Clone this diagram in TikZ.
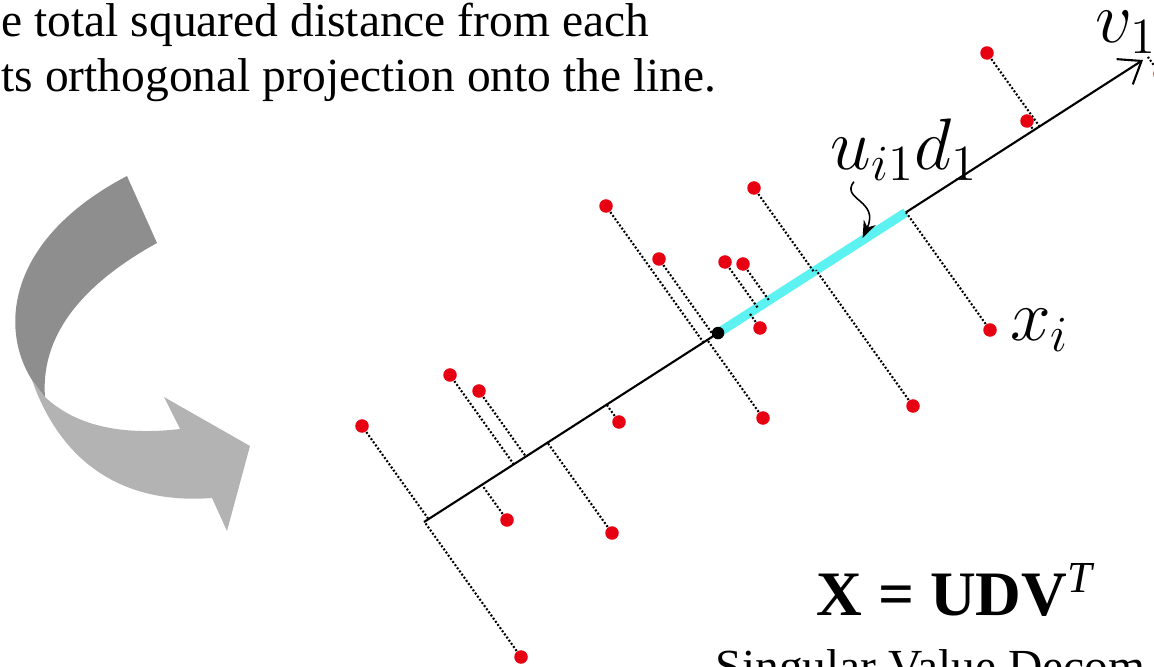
\documentclass[tikz,border=0pt]{standalone}
\usepackage[no-math]{fontspec}
\setmainfont{Liberation Serif}
\usetikzlibrary{arrows.meta,calc,positioning}
\definecolor{pointred}{HTML}{E60012}
\definecolor{segcyan}{HTML}{5CF2F2}
\definecolor{turndark}{HTML}{8E8E8E}
\definecolor{turnlight}{HTML}{B3B3B3}
\tikzset{
  point/.style={
    circle,
    fill=#1,
    inner sep=0pt,
    minimum size=0.135cm
  },
  point/.default=pointred,
  projline/.style={line width=0.6pt,dash pattern=on 0.55pt off 0.55pt},
  axis/.style={line width=0.6pt,-{Straight Barb[length=2mm,width=3mm]}},
  segment/.style={draw=segcyan,line width=2.6pt},
  pointer/.style={line width=0.45pt,-{Stealth[length=1.7mm,width=1.3mm]},shorten >=1pt},
  mathlabel/.style={inner sep=0pt,font=\fontsize{22}{26}\selectfont},
  caption/.style={inner sep=0pt,anchor=base west,font=\fontsize{13.5}{15.6}\selectfont}
}

\begin{document}
\begin{tikzpicture}[x=0.01cm,y=-0.01cm]
  \useasboundingbox (0,0) rectangle (1154,667);
  \clip (0,0) rectangle (1154,667);

  \node[caption] (line1) at (1,37) {e total squared distance from each};
  \node[caption] (line2) at (1,92) {ts orthogonal projection onto the line.};
  \node[caption] (svd) at (715,682) {Singular Value Decom};
  \node[caption,font=\fontsize{18}{21}\selectfont\bfseries] (formula) at (816,615) {X = UDV\textsuperscript{\mdseries\itshape T}};

  \fill[turnlight] (32,380) .. controls (60,460) and (120,505) .. (212,498)
    -- (227,531) -- (250,446) -- (164,397) -- (180,429)
    .. controls (120,436) and (75,425) .. (45,397) -- cycle;
  \fill[turndark] (127,176) -- (157,243) .. controls (90,280) and (40,330) .. (45,397)
    -- (32,380) .. controls (0,330) and (5,240) .. (127,176) -- cycle;

  \coordinate (S) at (424,522);
  \coordinate (T) at (1143,60);
  \coordinate (O) at ($(S)!0.409!(T)$);
  \coordinate (E) at ($(S)!0.67!(T)$);
  \coordinate (hit) at ($(S)!0.608!(T)$);

  \draw[axis] (S) -- (T);
  \draw[segment] (O) -- (E);

  \foreach \px/\py [count=\i] in {362/426,521/657,450/375,479/391,507/520,612/533,
      619/422,606/206,659/259,763/418,725/262,743/264,760/328,754/188,913/406,
      990/330,987/53,1027/121,1160/74} {
    \node[point] (p\i) at (\px,\py) {};
    \coordinate (h\i) at ($(p\i)+(100,140)$);
    \coordinate (f\i) at (intersection of S--T and p\i--h\i);
    \draw[projline] (p\i) -- (f\i);
  }
  \node[point=black,minimum size=0.125cm] (origin) at (O) {};

  \node[mathlabel,anchor=base west] (v1) at (1095,43) {$v_1$};
  \node[mathlabel,anchor=base west] (uid) at (830,170) {$u_{i1}d_1$};
  \node[mathlabel,right=0.12cm of p16] (xi) {$x_i$};
  \draw[pointer] ($(uid.south west)!0.16!(uid.south east)$) .. controls (840,200) and (880,200) .. (hit);
\end{tikzpicture}
\end{document}
